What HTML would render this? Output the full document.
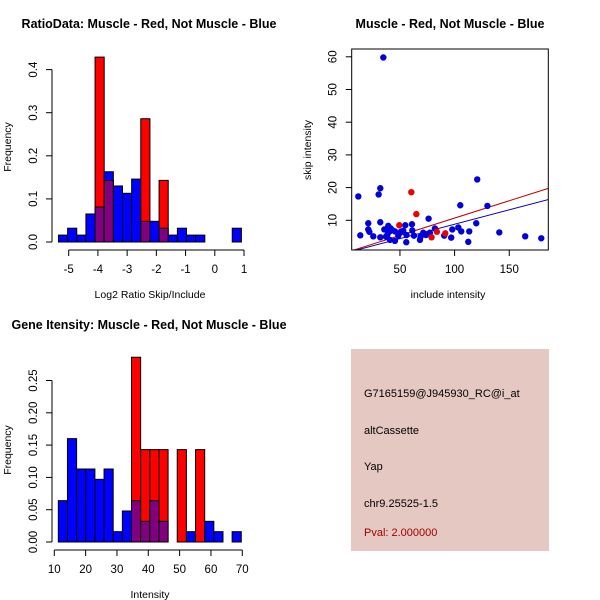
<!DOCTYPE html>
<html><head><meta charset="utf-8"><style>
body{margin:0;background:#fff;}
svg{display:block;font-family:"Liberation Sans",sans-serif;}
</style></head><body>
<svg id="s" width="600" height="600" viewBox="0 0 600 600">
<rect x="351" y="349" width="198" height="202" fill="#e6c8c2"/>
<g font-size="11" fill="#000">
<text x="364" y="397">G7165159@J945930_RC@i_at</text>
<text x="364" y="434">altCassette</text>
<text x="364" y="470">Yap</text>
<text x="364" y="507">chr9.25525-1.5</text>
<text x="364" y="536" fill="#a00000">Pval: 2.000000</text>
</g>
</svg>
<script>
// Ratio histogram data
const ratioBinStart = -5.35;
const ratioBinWidth = 0.313;
const ratioBlue = [0.016,0.032,0.016,0.065,0.081,0.163,0.13,0.113,0.146,0.048,0.048,0.032,0.016,0.032,0.016,0.016,0,0,0,0.032];
const ratioRed  = [0,0,0,0,0.429,0.143,0,0,0,0.286,0,0.143,0,0,0,0,0,0,0,0];
const ratioXTicks = [-5,-4,-3,-2,-1,0,1];
const ratioYTicks = [0.0,0.1,0.2,0.3,0.4];
// Intensity histogram data
const intBinStart = 11.28;
const intBinWidth = 2.92;
const intBlue = [0.064,0.16,0.113,0.113,0.097,0.113,0.016,0.048,0.064,0.032,0.064,0.032,0,0,0.016,0,0.032,0.016,0,0.016];
const intRed  = [0,0,0,0,0,0,0,0,0.286,0.143,0.143,0.143,0,0.143,0,0.143,0,0,0,0];
const intXTicks = [10,20,30,40,50,60,70];
const intYTicks = [0.00,0.05,0.10,0.15,0.20,0.25];
// Scatter data
const blueX = [11.9,13.7,21,21,22,25.6,30.5,32,32,32,34.8,35.7,37.2,38.4,39.3,40.2,41.5,43,40.9,45.4,45.4,48.5,50.9,53,54.9,55.8,56,61.3,62.8,61,68.3,68.9,71.3,73.8,76.2,77.4,82,90.5,96.9,97.9,103.4,105.2,106.1,112.5,113.4,119.8,120.7,130,140.9,164.6,179.3];
const blueY = [17.3,5.4,9.1,7.2,6.5,5.1,17.9,19.8,9.4,4.8,59.8,7.2,5,5.5,8.3,6.5,7.5,7,4,6.6,3.7,5.3,6.5,6.8,8.5,3.3,5.5,6.9,5.3,8.8,4,5,6.2,5.5,10.5,6.2,7.5,5.3,4.7,7.2,7.8,14.6,6.6,3.4,6.6,9.1,22.5,14.4,6.3,5.1,4.5];
const redX = [49.4,60.4,65,78.9,83.8,91.5];
const redY = [8.5,18.6,11.9,4.8,6.5,6.0];
const redFit = [0.08,0.106];   // intercept, slope
const blueFit = [0.0,0.088];
const scXTicks = [50,100,150];
const scYTicks = [10,20,30,40,50,60];

const svg = document.getElementById('s');
const NS = 'http://www.w3.org/2000/svg';
function mk(tag, attrs, parent){
  const e = document.createElementNS(NS, tag);
  for (const k in attrs) e.setAttribute(k, attrs[k]);
  (parent||svg).appendChild(e);
  return e;
}
function txt(str, attrs, parent){ const e = mk('text', attrs, parent); e.textContent = str; return e; }

function histogram(o){
  const g = mk('g', {});
  
  
  const sx = v => o.x0px + (v - o.x0v) * o.xs;
  const sy = v => o.base - v * o.ys;
  for (let i = 0; i < o.blue.length; i++){
    const l = sx(o.binStart + i*o.binWidth), r = sx(o.binStart + (i+1)*o.binWidth);
    const b = o.blue[i], rd = o.red[i];
    const draw = (h, col, nm) => {
      if (h <= 0) return;
      const rc = mk('rect', {x:l, y:sy(h), width:r-l, height:sy(0)-sy(h), fill:col, stroke:'#000', 'stroke-width':1}, g);
      
      
    };
    if (b >= rd){ draw(b, '#0000ff', 'bar-blue'); draw(rd, '#800080', 'bar-overlap'); }
    else { draw(rd, '#ff0000', 'bar-red'); draw(b, '#800080', 'bar-overlap'); }
  }
  const xa = mk('g', {}, g);
  
  
  const xt = o.xTicks;
  mk('line', {x1:sx(xt[0]), x2:sx(xt[xt.length-1]), y1:o.axisY, y2:o.axisY, stroke:'#000'}, xa);
  xt.forEach(t => {
    mk('line', {x1:sx(t), x2:sx(t), y1:o.axisY, y2:o.axisY+6, stroke:'#000'}, xa);
    txt(String(t), {x:sx(t), y:o.axisY+23, 'font-size':11.5, 'text-anchor':'middle'}, xa);
  });
  const ya = mk('g', {}, g);
  
  
  const yt = o.yTicks;
  mk('line', {x1:52, x2:52, y1:sy(yt[0]), y2:sy(yt[yt.length-1]), stroke:'#000'}, ya);
  yt.forEach(t => {
    mk('line', {x1:46, x2:52, y1:sy(t), y2:sy(t), stroke:'#000'}, ya);
    txt(t.toFixed(o.dec), {x:0, y:0, 'font-size':11.5, 'text-anchor':'middle', transform:`translate(37,${sy(t)}) rotate(-90)`}, ya);
  });
  const yl = txt('Frequency', {x:0, y:0, 'font-size':10.5, 'text-anchor':'middle', transform:`translate(11,${o.ylabY}) rotate(-90)`}, g);
  
  
  const xl = txt(o.xlab, {x:150, y:o.axisY+48, 'font-size':10.5, 'text-anchor':'middle'}, g);
  
  
  const ti = txt(o.title, {x:o.titleX, y:o.titleY, 'font-size':12.5, 'font-weight':'bold', 'text-anchor':'middle'}, g);
  
  
}

histogram({name:'ratio-histogram', blue:ratioBlue, red:ratioRed, binStart:ratioBinStart, binWidth:ratioBinWidth,
  x0px:68.7, x0v:-5, xs:29.22, base:242, ys:431, axisY:250, xTicks:ratioXTicks, yTicks:ratioYTicks, dec:1,
  ylabY:147, xlab:'Log2 Ratio Skip/Include', title:'RatioData: Muscle - Red, Not Muscle - Blue', titleX:149, titleY:28});
histogram({name:'intensity-histogram', blue:intBlue, red:intRed, binStart:intBinStart, binWidth:intBinWidth,
  x0px:54.3, x0v:10, xs:3.133, base:542, ys:646, axisY:550, xTicks:intXTicks, yTicks:intYTicks, dec:2,
  ylabY:450, xlab:'Intensity', title:'Gene Itensity: Muscle - Red, Not Muscle - Blue', titleX:149, titleY:329});

(function(){
  const g = mk('g', {});
  
  
  const sx = v => 345.3 + v * 1.093;
  const sy = v => 253 - v * 3.27;
  const L = 351.7, R = 548.3, T = 49, B = 250;
  const cp = mk('clipPath', {id:'scClip'}, g);
  mk('rect', {x:L, y:T, width:R-L, height:B-T}, cp);
  const lines = mk('g', {'clip-path':'url(#scClip)'}, g);
  [[redFit,'#c00000','fit-line-red'],[blueFit,'#0000c0','fit-line-blue']].forEach(([f,c,n]) => {
    const x1 = 0, x2 = 200;
    const ln = mk('line', {x1:sx(x1), y1:sy(f[0]+f[1]*x1), x2:sx(x2), y2:sy(f[0]+f[1]*x2), stroke:c, 'stroke-width':1}, lines);
    
    
  });
  blueX.forEach((x,i) => {
    const c = mk('circle', {cx:sx(x), cy:sy(blueY[i]), r:3.2, fill:'#0000dd'}, g);
    
    
  });
  redX.forEach((x,i) => {
    const c = mk('circle', {cx:sx(x), cy:sy(redY[i]), r:3.2, fill:'#ee0000'}, g);
    
    
  });
  const bx = mk('rect', {x:L, y:T, width:R-L, height:B-T, fill:'none', stroke:'#000'}, g);
  
  
  scXTicks.forEach(t => {
    mk('line', {x1:sx(t), x2:sx(t), y1:B, y2:B+6, stroke:'#000'}, g);
    txt(String(t), {x:sx(t), y:B+23, 'font-size':11.5, 'text-anchor':'middle'}, g);
  });
  scYTicks.forEach(t => {
    mk('line', {x1:L-6, x2:L, y1:sy(t), y2:sy(t), stroke:'#000'}, g);
    txt(String(t), {x:0, y:0, 'font-size':11.5, 'text-anchor':'middle', transform:`translate(${L-15},${sy(t)}) rotate(-90)`}, g);
  });
  const xl = txt('include intensity', {x:448, y:298, 'font-size':10.5, 'text-anchor':'middle'}, g);
  
  
  const yl = txt('skip intensity', {x:0, y:0, 'font-size':10.5, 'text-anchor':'middle', transform:'translate(311,150) rotate(-90)'}, g);
  
  
  const ti = txt('Muscle - Red, Not Muscle - Blue', {x:450, y:28, 'font-size':12.5, 'font-weight':'bold', 'text-anchor':'middle'}, g);
  
  
})();
</script>
</body></html>
